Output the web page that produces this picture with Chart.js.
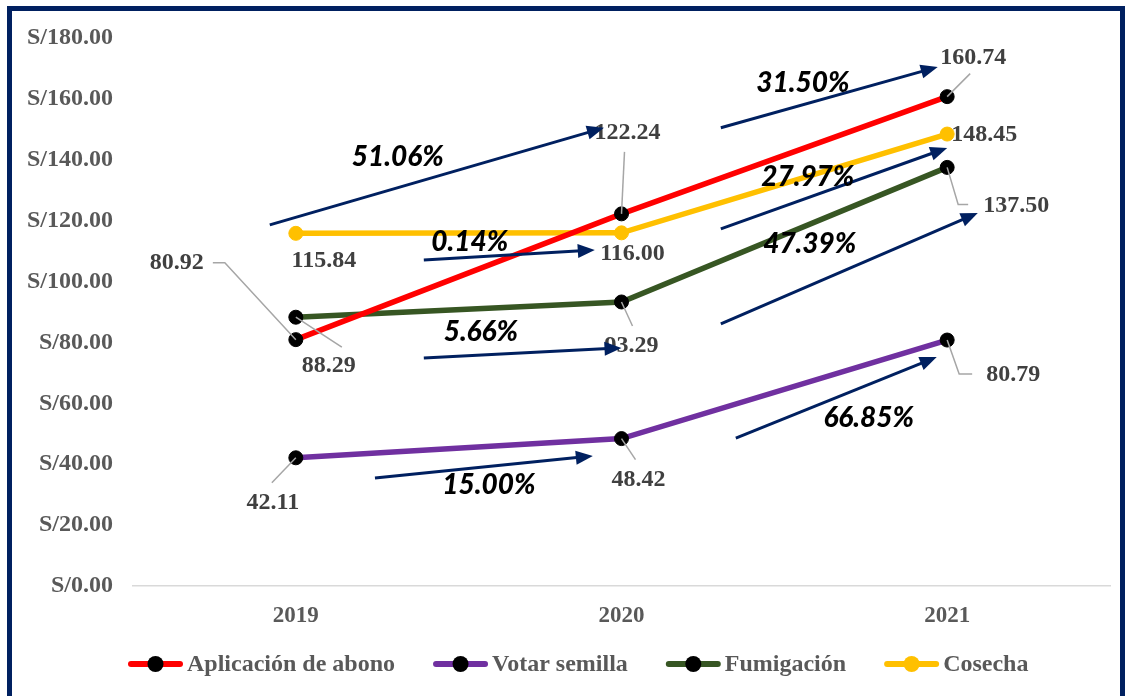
<!DOCTYPE html>
<html>
<head>
<meta charset="utf-8">
<script src="https://cdn.jsdelivr.net/npm/chart.js@4.4.1/dist/chart.umd.min.js"></script>
<style>
  html, body { margin: 0; padding: 0; background: #fff; }
  #wrap { position: relative; width: 1128px; height: 696px; overflow: hidden; }
  #frame { position: absolute; left: 7px; top: 6px; width: 1118px; height: 760px;
           border: 5px solid #002060; box-sizing: border-box; }
  #chart { position: absolute; left: 0; top: 0; }
</style>
</head>
<body>
<div id="wrap">
  <div id="frame"></div>
  <canvas id="chart" width="1128" height="696"></canvas>
</div>
<script>
// DATA
const years = ["2019", "2020", "2021"];
const seriesNames = ["Aplicación de abono", "Votar semilla", "Fumigación", "Cosecha"];
const abono = [80.92, 122.24, 160.74];
const semilla = [42.11, 48.42, 80.79];
const fumigacion = [88.29, 93.29, 137.50];
const cosecha = [115.84, 116.00, 148.45];
const yMin = 0, yMax = 180, yStep = 20;

// growth notes (text + arrow ends in data space: [category index, value])
const changeLabels = ["51.06%", "0.14%", "5.66%", "15.00%", "31.50%", "27.97%", "47.39%", "66.85%"];
const changeAt = [[0.313, 140.9], [0.534, 113.0], [0.568, 83.4], [0.593, 33.2],
                  [1.557, 165.2], [1.572, 134.4], [1.578, 112.4], [1.759, 55.2]];
const arrowFrom = [[-0.08, 118.6], [0.393, 107.1], [0.393, 74.9], [0.243, 35.5],
                   [1.305, 150.5], [1.305, 117.3], [1.305, 86.1], [1.351, 48.6]];
const arrowTo = [[0.946, 150.5], [0.918, 110.4], [1.0, 78.2], [0.912, 42.7],
                 [1.971, 170.5], [2.0, 143.9], [2.094, 122.5], [1.968, 75.2]];

// STYLES
const lineColors = ["#FF0000", "#7030A0", "#375623", "#FFC000"];
const markerColors = ["#000000", "#000000", "#000000", "#FFC000"];
const SERIF = '"Liberation Serif", "Times New Roman", serif';

// label offsets from the point (px) and leader lines
const labelOffsets = [
  [[-119, -77], [6, -81], [26, -39]],
  [[-23, 45], [17, 41], [66, 35]],
  [[33, 49], [10, 44], [69, 38]],
  [[28, 27], [11, 21], [37, 1]]
];
const leaders = [
  [[[-83, -77], [-71, -77], [0, 0]], [[3, -62], [0, 0]], [[23, -23], [0, 0]]],
  [[[-24, 25], [0, 0]], [[0, 0], [14, 21]], [[0, 0], [12, 34], [25, 34]]],
  [[[0, 0], [46, 30]], [[0, 0], [11, 24]], [[0, 0], [11, 37], [21, 37]]],
  [null, null, null]
];

const seriesData = [abono, semilla, fumigacion, cosecha];

function drawArrow(ctx, x1, y1, x2, y2) {
  const ang = Math.atan2(y2 - y1, x2 - x1);
  const hl = 17, hw = 7;
  ctx.beginPath();
  ctx.moveTo(x1, y1);
  ctx.lineTo(x2 - Math.cos(ang) * hl * 0.8, y2 - Math.sin(ang) * hl * 0.8);
  ctx.stroke();
  ctx.beginPath();
  ctx.moveTo(x2, y2);
  ctx.lineTo(x2 - Math.cos(ang) * hl + Math.sin(ang) * hw, y2 - Math.sin(ang) * hl - Math.cos(ang) * hw);
  ctx.lineTo(x2 - Math.cos(ang) * hl - Math.sin(ang) * hw, y2 - Math.sin(ang) * hl + Math.cos(ang) * hw);
  ctx.closePath();
  ctx.fill();
}

const overlay = {
  id: "overlay",
  afterDatasetsDraw(chart) {
    const ctx = chart.ctx;
    const xs = chart.scales.x, ys = chart.scales.y;
    const x0 = xs.getPixelForValue(0), step = xs.getPixelForValue(1) - x0;
    const px = v => x0 + v * step;

    ctx.save();
    // value labels and leader lines
    ctx.font = "bold 24px " + SERIF;
    ctx.textAlign = "center";
    ctx.textBaseline = "middle";
    chart.data.datasets.forEach((ds, i) => {
      chart.getDatasetMeta(i).data.forEach((pt, j) => {
        const lead = leaders[i][j];
        if (lead) {
          ctx.beginPath();
          lead.forEach(([dx, dy], k) => {
            if (k) ctx.lineTo(pt.x + dx, pt.y + dy); else ctx.moveTo(pt.x + dx, pt.y + dy);
          });
          ctx.strokeStyle = "#a6a6a6";
          ctx.lineWidth = 1.5;
          ctx.stroke();
        }
        const [dx, dy] = labelOffsets[i][j];
        ctx.fillStyle = "#404040";
        ctx.fillText(ds.data[j].toFixed(2), pt.x + dx, pt.y + dy);
      });
    });

    // arrows
    ctx.strokeStyle = "#002060";
    ctx.fillStyle = "#002060";
    ctx.lineWidth = 3;
    arrowFrom.forEach((a, k) => {
      const b = arrowTo[k];
      drawArrow(ctx, px(a[0]), ys.getPixelForValue(a[1]), px(b[0]), ys.getPixelForValue(b[1]));
    });

    // growth labels
    ctx.font = "italic 900 28px Lato, 'Open Sans', sans-serif";
    ctx.fillStyle = "#000000";
    changeLabels.forEach((t, k) => {
      ctx.fillText(t, px(changeAt[k][0]), ys.getPixelForValue(changeAt[k][1]));
    });
    ctx.restore();
  },
  afterDraw(chart) {
    // legend
    const ctx = chart.ctx;
    ctx.save();
    ctx.font = "bold 24px " + SERIF;
    ctx.textBaseline = "middle";
    ctx.textAlign = "left";
    let x = 128;
    const y = 664;
    seriesNames.forEach((name, i) => {
      ctx.strokeStyle = lineColors[i];
      ctx.lineWidth = 6;
      ctx.lineCap = "round";
      ctx.beginPath();
      ctx.moveTo(x + 3, y);
      ctx.lineTo(x + 52, y);
      ctx.stroke();
      ctx.fillStyle = markerColors[i];
      ctx.beginPath();
      ctx.arc(x + 27.5, y, 8, 0, Math.PI * 2);
      ctx.fill();
      ctx.fillStyle = "#595959";
      ctx.fillText(name, x + 59, y + 1);
      x += 59 + ctx.measureText(name).width + 38;
    });
    ctx.restore();
  }
};

const datasets = seriesData.map((d, i) => ({
  label: seriesNames[i],
  data: d,
  borderColor: lineColors[i],
  borderWidth: 5.5,
  pointBackgroundColor: markerColors[i],
  pointBorderColor: markerColors[i],
  pointBorderWidth: 1,
  pointRadius: 7,
  tension: 0
}));

new Chart(document.getElementById("chart"), {
  type: "line",
  data: { labels: years, datasets },
  options: {
    responsive: false,
    animation: false,
    layout: { padding: { top: 38, right: 18, left: 0, bottom: 0 } },
    plugins: { legend: { display: false }, tooltip: { enabled: false } },
    scales: {
      x: {
        offset: true,
        grid: { display: false, drawTicks: false },
        border: { display: true, color: "#d9d9d9", width: 1.5 },
        ticks: { color: "#595959", padding: 16, font: { family: SERIF, size: 23, weight: "bold" } },
        afterFit: s => { s.height = 110; }
      },
      y: {
        min: yMin, max: yMax,
        grid: { display: false, drawTicks: false },
        border: { display: false },
        ticks: {
          stepSize: yStep, padding: 20, color: "#595959",
          font: { family: SERIF, size: 24, weight: "bold" },
          callback: v => "S/" + Number(v).toFixed(2)
        },
        afterFit: s => { s.width = 133; }
      }
    }
  },
  plugins: [overlay]
});
</script>
</body>
</html>
